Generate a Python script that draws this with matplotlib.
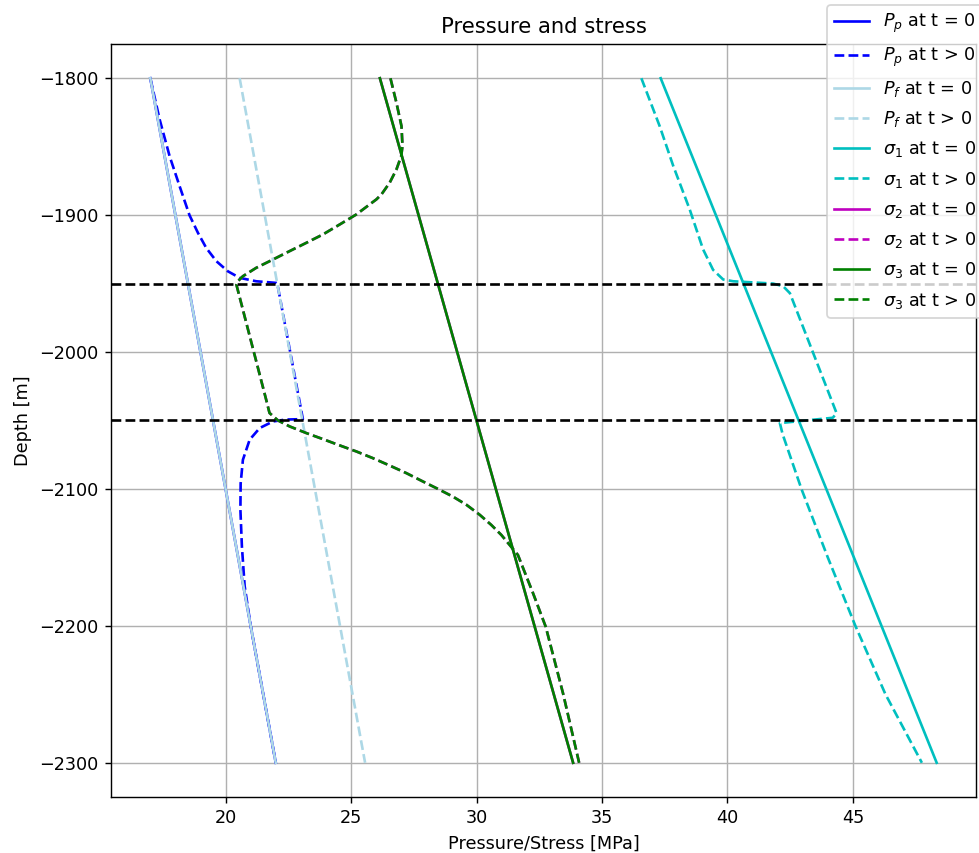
import matplotlib
matplotlib.use('Agg')
import matplotlib.pyplot as plt

# depth of the two ends of the straight profiles [m]
depth_ends = [-1800, -2300]

# initial profiles (straight lines)
pp_0 = [17.0, 22.0]
pf_0 = [17.0, 22.0]
pf_1 = [20.56, 25.56]
s1_0 = [37.34, 48.34]
s2_0 = [26.15, 33.85]
s3_0 = [26.15, 33.85]

# reservoir top / bottom
res_top = -1950
res_bot = -2050

# pore pressure at t > 0
pp_1_depth = [-1800, -1830, -1857, -1879, -1900, -1913, -1924, -1933.6, -1941, -1945.8, -1948.3,
              -1949.5, -1950, -2049, -2049.3, -2050.7, -2055.5, -2064, -2078.7, -2096, -2115,
              -2142, -2171, -2200, -2250, -2300]
pp_1 = [17.0, 17.37, 17.77, 18.17, 18.56, 18.90, 19.23, 19.63, 20.09, 20.56, 21.22,
        22.02, 22.06, 23.08, 22.4, 21.89, 21.36, 20.96, 20.69, 20.60, 20.59,
        20.65, 20.76, 21.0, 21.5, 22.0]

# sigma_1 at t > 0
s1_1_depth = [-1800, -1835, -1864, -1896, -1925, -1940, -1947, -1948.3, -1950, -1951.9, -1957,
              -2044.6, -2048, -2051.9, -2060, -2100, -2150, -2200, -2250, -2300]
s1_1 = [36.57, 37.3, 37.84, 38.5, 39.03, 39.43, 39.83, 40.23, 41.82, 42.22, 42.49,
        44.35, 44.2, 42.09, 42.2, 42.95, 44.0, 45.1, 46.3, 47.75]

# sigma_2 / sigma_3 at t > 0
s3_1_depth = [-1800, -1818, -1835, -1849.5, -1856.8, -1866.6, -1876.3, -1884.9, -1888.5, -1892.2,
              -1899.5, -1906.8, -1914.1, -1920.2, -1926.3, -1932.4, -1938.5, -1944.6, -1948.3,
              -1950.7, -2035, -2044.5, -2050, -2054.3, -2059.2, -2063.6, -2068.2, -2072.6,
              -2077.5, -2082.9, -2088.4, -2094.6, -2099.4, -2105.6, -2111.6, -2118.9, -2126.3,
              -2133.6, -2140.9, -2148.2, -2164, -2176, -2200.7, -2249.4, -2300]
s3_1 = [26.57, 26.81, 27.01, 27.05, 27.0, 26.81, 26.54, 26.21, 26.01, 25.74,
        25.21, 24.55, 23.88, 23.22, 22.55, 21.89, 21.22, 20.69, 20.49,
        20.43, 21.62, 21.75, 22.09, 22.55, 23.22, 23.88, 24.55, 25.21,
        25.87, 26.54, 27.20, 27.87, 28.40, 29.06, 29.60, 30.13, 30.59,
        30.99, 31.32, 31.65, 31.99, 32.25, 32.76, 33.45, 34.09]
s2_1_depth = s3_1_depth
s2_1 = s3_1

fig = plt.figure(figsize=(979 / 127, 853 / 127), dpi=127)
ax = fig.add_axes([111 / 979, 56 / 853, 865 / 979, 753 / 853])

ax.plot(pp_0, depth_ends, 'b-', label=r'$P_p$ at t = 0')
ax.plot(pp_1, pp_1_depth, 'b--', label=r'$P_p$ at t > 0')
ax.plot(pf_0, depth_ends, '-', color='lightblue', label=r'$P_f$ at t = 0')
ax.plot(pf_1, depth_ends, '--', color='lightblue', label=r'$P_f$ at t > 0')
ax.plot(s1_0, depth_ends, 'c-', label=r'$\sigma_1$ at t = 0')
ax.plot(s1_1, s1_1_depth, 'c--', label=r'$\sigma_1$ at t > 0')
ax.plot(s2_0, depth_ends, 'm-', label=r'$\sigma_2$ at t = 0')
ax.plot(s2_1, s2_1_depth, 'm--', label=r'$\sigma_2$ at t > 0')
ax.plot(s3_0, depth_ends, 'g-', label=r'$\sigma_3$ at t = 0')
ax.plot(s3_1, s3_1_depth, 'g--', label=r'$\sigma_3$ at t > 0')

ax.axhline(res_top, color='k', linestyle='--')
ax.axhline(res_bot, color='k', linestyle='--')

ax.set_title('Pressure and stress')
ax.set_xlabel('Pressure/Stress [MPa]')
ax.set_ylabel('Depth [m]')
ax.grid(True)

fig.legend(loc='upper left', bbox_to_anchor=(827 / 979, 1 - 5 / 853),
           borderaxespad=0, labelspacing=0.58)

fig.savefig('out.png', dpi=127)
